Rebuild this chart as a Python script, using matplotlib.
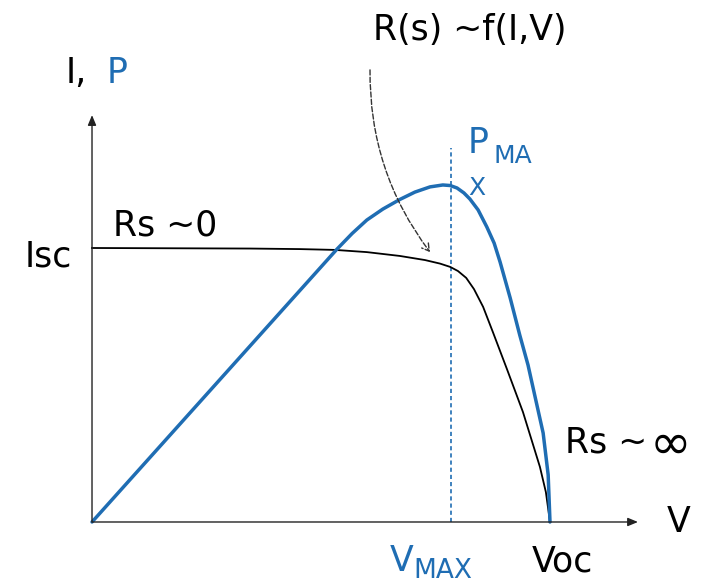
import matplotlib.pyplot as plt

# schematic units: Voc = 1, Isc = 1
v_iv = [0.0, 0.345, 0.454, 0.531, 0.600, 0.672, 0.727, 0.760, 0.782, 0.799, 0.817, 0.834,
	0.854, 0.876, 0.906, 0.941, 0.978, 0.991, 1.0]
i_iv = [1.0, 0.998, 0.996, 0.993, 0.985, 0.971, 0.956, 0.943, 0.931, 0.916, 0.891, 0.850,
	0.785, 0.690, 0.558, 0.401, 0.201, 0.109, 0.0]

v_pv = [0.0, 0.535, 0.568, 0.600, 0.635, 0.672, 0.705, 0.738, 0.766, 0.782, 0.797, 0.812,
	0.825, 0.843, 0.862, 0.878, 0.891, 0.913, 0.934, 0.952, 0.969, 0.985, 0.996, 1.0]
p_pv = [0.0, 0.996, 1.053, 1.102, 1.142, 1.177, 1.204, 1.223, 1.230, 1.228, 1.219, 1.201,
	1.179, 1.139, 1.077, 1.018, 0.949, 0.818, 0.682, 0.573, 0.445, 0.325, 0.172, 0.0]

v_max = 0.784

BLUE = '#1f6db3'

def main():
	fig = plt.figure(figsize=(7.07, 5.88), dpi=100)
	ax = fig.add_axes([0, 0, 1, 1])
	ax.set_xlim(-0.2009, 1.3428)
	ax.set_ylim(-0.2409, 1.9051)
	ax.axis('off')

	# axes arrows
	ax.annotate('', xy=(1.192, 0), xytext=(0, 0),
		arrowprops=dict(arrowstyle='-|>,head_length=0.6,head_width=0.25', color='#222222', lw=1.0, shrinkA=0, shrinkB=0))
	ax.annotate('', xy=(0, 1.485), xytext=(0, 0),
		arrowprops=dict(arrowstyle='-|>,head_length=0.6,head_width=0.25', color='#222222', lw=1.0, shrinkA=0, shrinkB=0))

	# Vmax dashed line
	ax.plot([v_max, v_max], [0, 1.365], color=BLUE, lw=1.2, ls=(0, (2.5, 1.8)))

	ax.plot(v_iv, i_iv, color='black', lw=1.3, solid_joinstyle='round')
	ax.plot(v_pv, p_pv, color=BLUE, lw=2.5, solid_joinstyle='round', solid_capstyle='round')

	# curved dashed arrow
	ax.annotate('', xy=(0.738, 0.985), xytext=(0.607, 1.650),
		arrowprops=dict(arrowstyle='->,head_length=0.5,head_width=0.3', color='#333333', lw=1.0, ls='--',
			connectionstyle='arc3,rad=0.17', shrinkA=0, shrinkB=0))

	fs = 25
	ax.text(-0.057, 1.602, 'I,', fontsize=fs, color='black', ha='left', va='baseline')
	ax.text(0.031, 1.602, 'P', fontsize=fs, color=BLUE, ha='left', va='baseline')
	ax.text(-0.0437, 0.931, 'Isc', fontsize=fs, color='black', ha='right', va='baseline')
	ax.text(0.046, 1.047, 'Rs ~0', fontsize=fs, color='black', ha='left', va='baseline')
	ax.text(0.825, 1.759, 'R(s) ~f(I,V)', fontsize=fs, color='black', ha='center', va='baseline')
	ax.text(0.821, 1.347, 'P', fontsize=fs, color=BLUE, ha='left', va='baseline')
	ax.text(0.876, 1.310, 'MA', fontsize=18, color=BLUE, ha='left', va='baseline')
	ax.text(0.821, 1.193, 'X', fontsize=18, color=BLUE, ha='left', va='baseline')
	ax.text(1.033, 0.252, 'Rs ~', fontsize=fs, color='black', ha='left', va='baseline')
	ax.text(1.218, 0.232, '\u221e', fontsize=36, color='black', ha='left', va='baseline')
	ax.text(1.255, -0.036, 'V', fontsize=fs, color='black', ha='left', va='baseline')
	ax.text(0.651, -0.179, 'V', fontsize=fs, color=BLUE, ha='left', va='baseline')
	ax.text(0.701, -0.204, 'MAX', fontsize=19, color=BLUE, ha='left', va='baseline')
	ax.text(0.961, -0.182, 'Voc', fontsize=fs, color='black', ha='left', va='baseline')

	fig.savefig('out.png', dpi=100)

if __name__ == '__main__':
	main()
